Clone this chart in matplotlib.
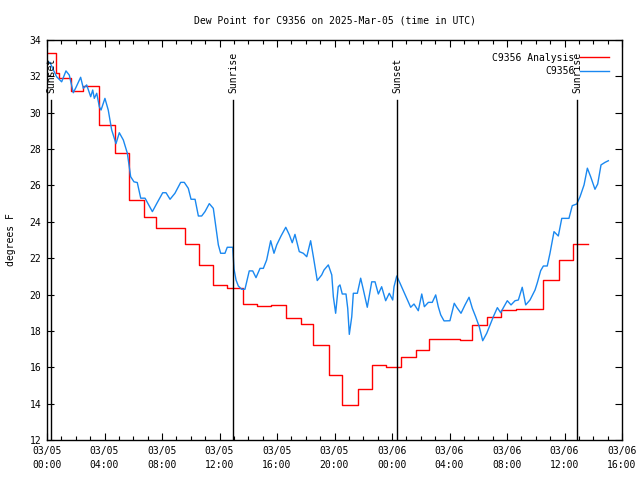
import matplotlib
matplotlib.use("Agg")
import matplotlib.pyplot as plt
from matplotlib.ticker import MultipleLocator

# ---- data (hours since 2025-03-05 00:00 UTC) ----
obs_hours = [0.00, 0.21, 0.44, 0.67, 1.02, 1.32, 1.55, 1.83, 2.02, 2.34, 2.53, 2.76,
             3.04, 3.18, 3.29, 3.46, 3.64, 3.76, 4.03, 4.26, 4.50, 4.80, 5.03, 5.31,
             5.59, 5.82, 6.05, 6.28, 6.52, 6.82, 7.33, 7.63, 8.05, 8.28, 8.56, 8.90,
             9.30, 9.55, 9.83, 10.02, 10.30, 10.53, 10.76, 10.99, 11.29, 11.57, 11.76,
             11.92, 12.08, 12.38, 12.54, 12.78, 12.92, 13.01, 13.15, 13.31, 13.54, 13.77,
             14.07, 14.31, 14.54, 14.82, 15.05, 15.28, 15.56, 15.79, 15.98, 16.28, 16.61,
             16.86, 17.06, 17.25, 17.55, 17.83, 18.07, 18.34, 18.53, 18.80, 19.11, 19.27,
             19.57, 19.81, 19.92, 20.08, 20.26, 20.38, 20.54, 20.80, 20.92, 21.03, 21.20,
             21.31, 21.59, 21.82, 22.00, 22.28, 22.59, 22.82, 23.05, 23.28, 23.56, 23.81,
             24.05, 24.14, 24.33, 24.56, 25.30, 25.53, 25.83, 26.07, 26.25, 26.53, 26.80,
             27.04, 27.22, 27.39, 27.62, 28.03, 28.33, 28.50, 28.80, 29.08, 29.36, 29.59,
             29.82, 30.07, 30.31, 30.59, 30.82, 31.05, 31.33, 31.56, 31.75, 32.02, 32.28,
             32.56, 32.79, 33.06, 33.30, 33.60, 33.95, 34.11, 34.34, 34.53, 34.80, 34.99,
             35.27, 35.57, 35.81, 36.31, 36.54, 36.85, 37.08, 37.36, 37.59, 37.82, 38.12,
             38.31, 38.54, 38.82, 39.05]
obs_dewpt = [32.77, 32.77, 32.35, 31.98, 31.70, 32.30, 32.07, 31.10, 31.40, 31.95, 31.34, 31.53,
             30.88, 31.25, 30.79, 31.07, 30.33, 30.15, 30.79, 30.15, 29.05, 28.30, 28.90, 28.50,
             27.77, 26.48, 26.20, 26.16, 25.30, 25.30, 24.56, 25.00, 25.60, 25.60, 25.24, 25.57,
             26.17, 26.17, 25.84, 25.24, 25.24, 24.32, 24.32, 24.56, 25.00, 24.74, 23.64,
             22.73, 22.27, 22.27, 22.60, 22.60, 22.60, 21.40, 20.80, 20.47, 20.29, 20.29,
             21.30, 21.30, 20.93, 21.44, 21.44, 21.90, 22.96, 22.27, 22.73, 23.22, 23.70,
             23.28, 22.85, 23.31, 22.36, 22.27, 22.08, 22.96, 22.08, 20.77, 21.08, 21.35,
             21.63, 21.08, 19.88, 18.97, 20.43, 20.53, 20.03, 20.03, 19.24, 17.81, 18.78,
             20.07, 20.07, 20.90, 20.29, 19.30, 20.70, 20.70, 20.03, 20.43, 19.66, 20.07,
             19.70, 20.43, 21.02, 20.62, 19.30, 19.48, 19.11, 20.03, 19.33, 19.57, 19.57,
             19.98, 19.33, 18.88, 18.55, 18.56, 19.52, 19.30, 18.97, 19.43, 19.85, 19.24,
             18.78, 18.23, 17.46, 17.87, 18.33, 18.78, 19.28, 19.00, 19.28, 19.66, 19.43,
             19.66, 19.70, 20.40, 19.43, 19.70, 20.25, 20.65, 21.31, 21.57, 21.57, 22.27,
             23.46, 23.22, 24.19, 24.19, 24.89, 24.98, 25.38, 26.03, 26.95, 26.48, 25.79,
             26.08, 27.13, 27.27, 27.36]

ana_hours = [0.0, 0.6, 0.8, 1.65, 2.5, 3.6, 4.75, 5.7, 6.75, 7.6, 9.6, 10.6, 11.55, 12.55,
             13.6, 14.6, 15.6, 16.6, 17.7, 18.5, 19.6, 20.55, 21.6, 22.6, 23.6, 24.6, 25.65,
             26.6, 28.7, 29.55, 30.6, 31.55, 32.6, 34.5, 35.6, 36.6, 37.6]
ana_dewpt = [33.3, 32.2, 31.9, 31.2, 31.45, 29.3, 27.8, 25.2, 24.25, 23.65, 22.8, 21.6, 20.5, 20.35,
             19.5, 19.35, 19.45, 18.7, 18.4, 17.2, 15.6, 13.9, 14.8, 16.1, 16.0, 16.55, 16.95,
             17.55, 17.5, 18.3, 18.75, 19.15, 19.2, 20.8, 21.9, 22.8, 22.8]

sun_hours = [0.28, 12.94, 24.35, 36.87]
sun_labels = ["Sunset", "Sunrise", "Sunset", "Sunrise"]

xtick_hours = [0, 4, 8, 12, 16, 20, 24, 28, 32, 36, 40]
xtick_labels = ["03/05\n00:00", "03/05\n04:00", "03/05\n08:00", "03/05\n12:00", "03/05\n16:00",
                "03/05\n20:00", "03/06\n00:00", "03/06\n04:00", "03/06\n08:00", "03/06\n12:00",
                "03/06\n16:00"]
ytick_vals = list(range(12, 35, 2))

# ---- figure ----
plt.rcParams['font.family'] = ['DejaVu Sans Mono']
fs = 7
fig = plt.figure(figsize=(6.4, 4.8), dpi=100)
ax = fig.add_axes([47/640, 1-440/480, (622-47)/640, 400/480])

ax.step(ana_hours, ana_dewpt, where='post', color='#ff0000', lw=1.0, label='C9356 Analysis')
ax.plot(obs_hours, obs_dewpt, color='#1a88f0', lw=1.0, label='C9356')

for h, lab in zip(sun_hours, sun_labels):
    ax.plot([h, h], [12, 30.7], color='black', lw=1.0)
    ax.text(h, 31.1, lab, rotation=90, ha='center', va='bottom', fontsize=fs)

ax.set_xlim(0, 40)
ax.set_ylim(12, 34)
ax.set_xticks(xtick_hours)
ax.set_xticklabels(xtick_labels, fontsize=fs, linespacing=1.6)
ax.xaxis.set_minor_locator(MultipleLocator(1))
ax.set_yticks(ytick_vals)
ax.set_yticklabels([str(v) for v in ytick_vals], fontsize=fs)
ax.tick_params(which='both', direction='in', top=True, right=True, colors='black')
ax.tick_params(which='major', length=5, width=0.8, pad=4)
ax.tick_params(which='minor', length=3, width=0.8)
for s in ax.spines.values():
    s.set_linewidth(1.0)

ax.set_ylabel('degrees F', fontsize=fs, labelpad=10)
ax.set_title('Dew Point for C9356 on 2025-Mar-05 (time in UTC)', fontsize=fs, pad=12)

leg = ax.legend(loc='upper right', fontsize=fs, frameon=False, markerfirst=False,
                handlelength=3.0, borderaxespad=0.9, labelspacing=0.35, handletextpad=0.6)
for t in leg.get_texts():
    t.set_ha('right')

fig.savefig('out.png', dpi=100)
